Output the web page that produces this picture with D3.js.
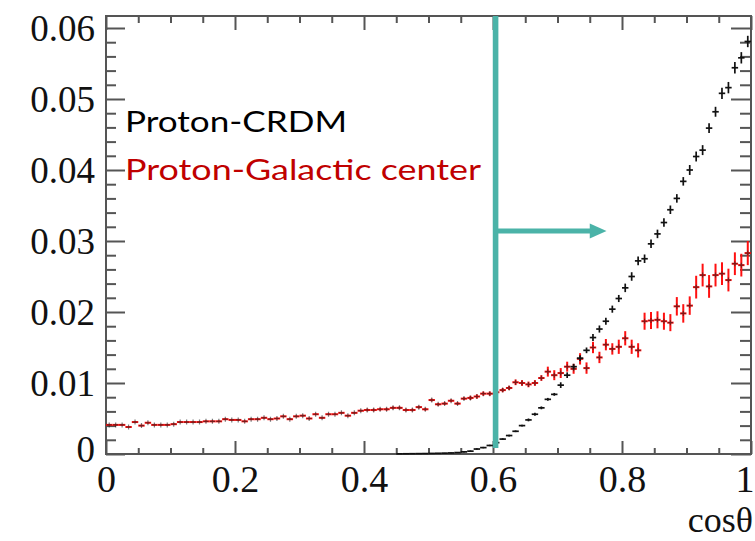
<!DOCTYPE html>
<html lang="en">
<head>
    <meta charset="UTF-8">
    <script src="https://d3js.org/d3.v7.min.js"></script>
    <style>
        body { margin: 0; background: white; }
        .tick-label text { font-family: "Liberation Serif", "Times New Roman", serif; fill: #111; }
        .legend { font-family: Lato, "Open Sans", sans-serif; }
    </style>
</head>
<body>
    <div id="chart"></div>

    <script>
        // 100 bins of cos(theta) from 0 to 1
        const nBins = 100;

        const crdmValues = [
            0,0,0,0,0,0,0,0,0,0,
            0,0,0,0,0,0,0,0,0,0,
            0,0,0,0,0,0,0,0,0,0,
            0,0,0,0,0,0,0,0,0,0,
            0,0,0,0,0,0.00002,0.00003,0.00004,0.00005,0.00006,
            0.00008,0.0001,0.00012,0.00015,0.0002,0.0003,0.0004,0.0007,0.0009,0.0012,
            0.0016,0.0021,0.0026,0.0032,0.0040,0.0048,0.0056,0.0065,0.0077,0.0084,
            0.0097,0.0111,0.0123,0.0135,0.0146,0.0164,0.0176,0.0187,0.0204,0.0219,
            0.0234,0.0250,0.0272,0.0275,0.0296,0.0310,0.0326,0.0344,0.0360,0.0384,
            0.0400,0.0419,0.0428,0.0459,0.0482,0.0508,0.0516,0.0544,0.0558,0.0581
        ];
        const crdmErrors = [
            0,0,0,0,0,0,0,0,0,0,
            0,0,0,0,0,0,0,0,0,0,
            0,0,0,0,0,0,0,0,0,0,
            0,0,0,0,0,0,0,0,0,0,
            0,0,0,0,0,0.00003,0.00003,0.00003,0.00003,0.00003,
            0.00003,0.00003,0.00003,0.00003,0.00003,0.0001,0.0001,0.0001,0.0001,0.0001,
            0.00012,0.00012,0.00012,0.00012,0.00012,0.0002,0.0002,0.0002,0.0002,0.0002,
            0.0004,0.0004,0.0004,0.0004,0.0004,0.0005,0.0005,0.0005,0.0005,0.0005,
            0.0006,0.0006,0.0006,0.0006,0.0006,0.0006,0.0006,0.0006,0.0006,0.0006,
            0.0007,0.0007,0.0007,0.0007,0.0007,0.0008,0.0008,0.0008,0.0008,0.0008
        ];

        const gcValues = [
            0.0041,0.0041,0.0041,0.0038,0.0045,0.0040,0.0044,0.0041,0.0041,0.0041,
            0.0042,0.0045,0.0045,0.0045,0.0045,0.0046,0.0046,0.0046,0.0049,0.0048,
            0.0048,0.0046,0.0049,0.0049,0.0051,0.0049,0.0050,0.0053,0.0049,0.0053,
            0.0054,0.0050,0.0056,0.0051,0.0056,0.0056,0.0058,0.0054,0.0058,0.0061,
            0.0062,0.0062,0.0063,0.0063,0.0065,0.0065,0.0062,0.0062,0.0066,0.0063,
            0.0076,0.0070,0.0071,0.0075,0.0071,0.0078,0.0079,0.0081,0.0085,0.0085,
            0.0087,0.0090,0.0093,0.0101,0.0100,0.0098,0.0100,0.0107,0.0116,0.0111,
            0.0114,0.0123,0.0120,0.0134,0.0121,0.0150,0.0136,0.0154,0.0148,0.0151,
            0.0163,0.0151,0.0146,0.0187,0.0188,0.0189,0.0187,0.0185,0.0208,0.0198,
            0.0209,0.0235,0.0252,0.0236,0.0252,0.0254,0.0245,0.0268,0.0266,0.0283
        ];
        const gcErrors = [
            0.00012,0.00012,0.00012,0.00012,0.00012,0.00012,0.00012,0.00012,0.00012,0.00012,
            0.00012,0.00012,0.00012,0.00012,0.00012,0.00012,0.00012,0.00012,0.00012,0.00012,
            0.00012,0.00012,0.00012,0.00012,0.00012,0.00012,0.00012,0.00012,0.00012,0.00012,
            0.00012,0.00012,0.00012,0.00012,0.00012,0.00012,0.00012,0.00012,0.00012,0.00012,
            0.0002,0.0002,0.0002,0.0002,0.0002,0.0002,0.0002,0.0002,0.0002,0.0002,
            0.0002,0.0002,0.0002,0.0002,0.0002,0.0002,0.0003,0.0003,0.0003,0.0003,
            0.0003,0.0003,0.0003,0.0004,0.0004,0.0004,0.0004,0.0004,0.0007,0.0007,
            0.0007,0.0007,0.0007,0.0008,0.0008,0.0008,0.0008,0.0008,0.0008,0.0010,
            0.0010,0.0010,0.0010,0.0012,0.0012,0.0012,0.0012,0.0012,0.0013,0.0013,
            0.0013,0.0016,0.0016,0.0016,0.0016,0.0016,0.0016,0.0016,0.0016,0.0017
        ];

        const xTickLabels = ["0", "0.2", "0.4", "0.6", "0.8", "1"];
        const yTickLabels = ["0", "0.01", "0.02", "0.03", "0.04", "0.05", "0.06"];
        const legendLabels = ["Proton-CRDM", "Proton-Galactic center"];
        const cutValue = 0.604;   // the cos(theta) > 0.6 selection marker

        const width = 755;
        const height = 541;
        const margin = { left: 106, right: 4, top: 16, bottom: 87 };

        const svg = d3.select("#chart")
            .append("svg")
            .attr("width", width)
            .attr("height", height);

        const x = d3.scaleLinear()
            .domain([0, 1])
            .range([margin.left, width - margin.right]);
        const y = d3.scaleLinear()
            .domain([0, 0.06169])
            .range([height - margin.bottom, margin.top]);

        const axisColor = "#555";
        const xMajor = xTickLabels.map(Number);
        const xMinor = d3.range(0, 1.0001, 0.05).filter(v => Math.abs(v * 5 - Math.round(v * 5)) > 1e-6);
        const yMajor = yTickLabels.map(Number);
        const yMinor = d3.range(0, 0.0617, 0.002).filter(v => Math.abs(v * 100 - Math.round(v * 100)) > 1e-6);

        function styleAxis(g) {
            g.select(".domain").remove();
            g.selectAll("line").attr("stroke", axisColor).attr("stroke-width", 2);
        }

        // ticks on all four sides, pointing into the frame
        svg.append("g").attr("transform", `translate(${x(0)},0)`)
            .call(d3.axisLeft(y).tickValues(yMinor).tickSize(-10).tickFormat(""))
            .call(styleAxis);
        svg.append("g").attr("class", "tick-label").attr("transform", `translate(${x(0)},0)`)
            .call(d3.axisLeft(y).tickValues(yMajor).tickSize(-19).tickPadding(11)
                .tickFormat((d, i) => yTickLabels[i]))
            .call(styleAxis)
            .call(g => g.selectAll("text").attr("font-size", 37)
                .attr("dy", (d, i) => i === 0 ? "0.2em" : "0.34em"));

        svg.append("g").attr("transform", `translate(${x(1)},0)`)
            .call(d3.axisRight(y).tickValues(yMinor).tickSize(-11).tickFormat(""))
            .call(styleAxis);
        svg.append("g").attr("transform", `translate(${x(1)},0)`)
            .call(d3.axisRight(y).tickValues(yMajor).tickSize(-20).tickFormat(""))
            .call(styleAxis);

        svg.append("g").attr("transform", `translate(0,${y(0)})`)
            .call(d3.axisBottom(x).tickValues(xMinor).tickSize(-6).tickFormat(""))
            .call(styleAxis);
        svg.append("g").attr("class", "tick-label").attr("transform", `translate(0,${y(0)})`)
            .call(d3.axisBottom(x).tickValues(xMajor).tickSize(-13).tickPadding(11)
                .tickFormat((d, i) => xTickLabels[i]))
            .call(styleAxis)
            .call(g => g.selectAll("text").attr("font-size", 38)
                .attr("text-anchor", (d, i) => i === xMajor.length - 1 ? "end" : "middle")
                .attr("dx", (d, i) => i === xMajor.length - 1 ? 3 : 0));

        svg.append("g").attr("transform", `translate(0,${y.range()[1]})`)
            .call(d3.axisTop(x).tickValues(xMinor).tickSize(-7).tickFormat(""))
            .call(styleAxis);
        svg.append("g").attr("transform", `translate(0,${y.range()[1]})`)
            .call(d3.axisTop(x).tickValues(xMajor).tickSize(-14).tickFormat(""))
            .call(styleAxis);

        // frame
        svg.append("rect")
            .attr("x", x(0)).attr("y", y.range()[1])
            .attr("width", x(1) - x(0)).attr("height", y(0) - y.range()[1])
            .attr("fill", "none").attr("stroke", axisColor).attr("stroke-width", 2);

        // x axis title
        svg.append("text")
            .attr("x", 753).attr("y", 532)
            .attr("text-anchor", "end")
            .attr("font-family", "'Liberation Serif', serif")
            .attr("font-size", 36)
            .attr("fill", "#111")
            .text("cosθ");

        const binW = 1 / nBins;

        function drawHist(values, errors, color, sw, marker) {
            const pts = values.map((v, i) => ({ i, v, e: errors[i] })).filter(d => d.v > 0);
            const g = svg.append("g");
            g.selectAll(".h").data(pts).enter().append("line")
                .attr("x1", d => x(d.i * binW)).attr("x2", d => x((d.i + 1) * binW))
                .attr("y1", d => y(d.v)).attr("y2", d => y(d.v))
                .attr("stroke", color).attr("stroke-width", sw);
            g.selectAll(".v").data(pts).enter().append("line")
                .attr("x1", d => x((d.i + 0.5) * binW)).attr("x2", d => x((d.i + 0.5) * binW))
                .attr("y1", d => Math.min(y(d.v - d.e), y(0))).attr("y2", d => y(d.v + d.e) - 0.01)
                .attr("stroke", color).attr("stroke-width", sw);
            if (marker) {
                g.selectAll(".m").data(pts).enter().append("path")
                    .attr("d", d => {
                        const cx = x((d.i + 0.5) * binW), cy = y(d.v);
                        return `M${cx - 2.5},${cy}H${cx + 2.5}M${cx},${cy - 2.5}V${cy + 2.5}`;
                    })
                    .attr("stroke", "#222").attr("stroke-width", 1.2).attr("opacity", 0.6);
            }
        }

        drawHist(gcValues, gcErrors, "#ff1010", 2, true);
        drawHist(crdmValues, crdmErrors, "#111", 1.7, false);

        // selection line and arrow
        const teal = "#4bb3a8";
        svg.append("line")
            .attr("x1", x(cutValue)).attr("x2", x(cutValue))
            .attr("y1", y.range()[1]).attr("y2", 448)
            .attr("stroke", teal).attr("stroke-width", 5.6);

        const arrowY = y(0.0314);
        svg.append("line")
            .attr("x1", x(cutValue) + 2).attr("x2", x(0.752))
            .attr("y1", arrowY).attr("y2", arrowY)
            .attr("stroke", teal).attr("stroke-width", 5);
        svg.append("path")
            .attr("d", `M${x(0.750)},${arrowY - 7.5}L${x(0.776)},${arrowY}L${x(0.750)},${arrowY + 7.5}Z`)
            .attr("fill", teal);

        // legend
        const legendColors = ["#000", "#c00000"];
        const legendY = [132, 180];
        const legendW = [222, 356];
        svg.selectAll(".legend").data(legendLabels).enter().append("text")
            .attr("class", "legend")
            .attr("x", 125)
            .attr("y", (d, i) => legendY[i])
            .attr("font-size", 29)
            .attr("fill", (d, i) => legendColors[i])
            .attr("textLength", (d, i) => legendW[i])
            .attr("lengthAdjust", "spacingAndGlyphs")
            .text(d => d);
    </script>
</body>
</html>
